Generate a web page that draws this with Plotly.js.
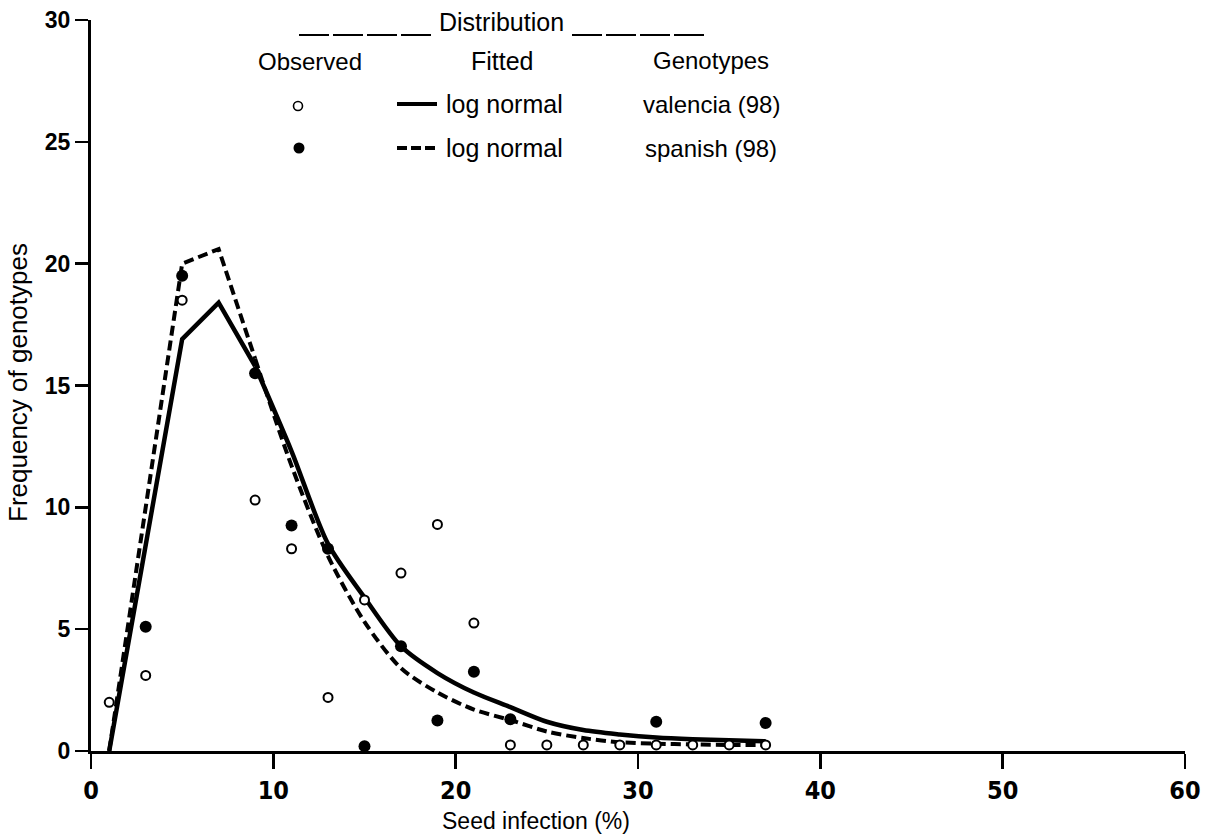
<!DOCTYPE html>
<html>
<head>
<meta charset="utf-8">
<script src="https://cdn.plot.ly/plotly-3.0.1.min.js"></script>
<style>html,body{margin:0;padding:0;background:#fff;}#chart{width:1209px;height:835px;}</style>
</head>
<body>
<div id="chart"></div>
<script>
// ---- data ----
const fitX = [1, 5, 7, 9, 11, 13, 15, 17, 19, 21, 23, 25, 27, 29, 31, 33, 35, 37];
const valenciaFit = [0, 16.9, 18.4, 15.8, 12.3, 8.5, 6.3, 4.3, 3.2, 2.4, 1.8, 1.2, 0.86, 0.68, 0.55, 0.48, 0.44, 0.4];
const spanishFit = [0, 20.0, 20.6, 16.1, 11.7, 8.0, 5.3, 3.4, 2.4, 1.7, 1.27, 0.8, 0.53, 0.36, 0.3, 0.27, 0.25, 0.25];

const valenciaX = [1, 3, 5, 9, 11, 13, 15, 17, 19, 21, 23, 25, 27, 29, 31, 33, 35, 37];
const valenciaObs = [2.0, 3.1, 18.5, 10.3, 8.3, 2.2, 6.2, 7.3, 9.3, 5.25, 0.25, 0.25, 0.25, 0.25, 0.25, 0.25, 0.25, 0.25];
const spanishX = [3, 5, 9, 11, 13, 15, 17, 19, 21, 23, 31, 37];
const spanishObs = [5.1, 19.5, 15.5, 9.25, 8.3, 0.2, 4.3, 1.25, 3.25, 1.3, 1.2, 1.15];

const xTicks = [0, 10, 20, 30, 40, 50, 60];
const yTicks = [0, 5, 10, 15, 20, 25, 30];

const xTitle = "Seed infection (%)";
const yTitle = "Frequency of genotypes";
const legendHeader = "Distribution";
const legendCols = ["Observed", "Fitted", "Genotypes"];
const fitLabel = "log normal";
const genotypeLabels = ["valencia (98)", "spanish (98)"];

// ---- layout helpers (pixel -> paper) ----
const W = 1209, H = 835;
const M = {l: 91, r: 24, t: 20, b: 84};
const PW = W - M.l - M.r, PH = H - M.t - M.b;
const px = v => (v - M.l) / PW;
const py = v => (H - M.b - v) / PH;

const SANS = "Liberation Sans, Arial, sans-serif";
const NARROW = "Liberation Sans Narrow, DejaVu Sans Condensed, Arial Narrow, sans-serif";

// fitted curves: straight rise up to the peak, smooth tail afterwards
const PEAK = 3; // index where the smooth tail starts
const solidLine = {color: '#000', width: 4.5};
const dashLine = {color: '#000', width: 4, dash: '10px,5px'};
const traces = [
  {x: fitX.slice(0, PEAK + 1), y: valenciaFit.slice(0, PEAK + 1), mode: 'lines', line: solidLine, cliponaxis: false},
  {x: fitX.slice(PEAK), y: valenciaFit.slice(PEAK), mode: 'lines', line: Object.assign({shape: 'spline', smoothing: 0.8}, solidLine), cliponaxis: false},
  {x: fitX.slice(0, PEAK + 1), y: spanishFit.slice(0, PEAK + 1), mode: 'lines', line: dashLine, cliponaxis: false},
  {x: fitX.slice(PEAK), y: spanishFit.slice(PEAK), mode: 'lines', line: Object.assign({shape: 'spline', smoothing: 0.8}, dashLine), cliponaxis: false},
  {x: valenciaX, y: valenciaObs, mode: 'markers', cliponaxis: false,
   marker: {symbol: 'circle', size: 9, color: '#fff', line: {color: '#000', width: 2}}},
  {x: spanishX, y: spanishObs, mode: 'markers', cliponaxis: false,
   marker: {symbol: 'circle', size: 12, color: '#000', line: {width: 0}}}
];

const txt = (text, x, y, size, xanchor, font) => ({
  text, xref: 'paper', yref: 'paper', x: px(x), y: py(y), xanchor: xanchor || 'center', yanchor: 'middle',
  showarrow: false, font: {family: font || SANS, size: size, color: '#000'}
});

const annotations = [
  txt(legendHeader, 501, 22, 25),
  txt(legendCols[0], 310, 61, 24),
  txt(legendCols[1], 502, 61, 25),
  txt(legendCols[2], 711, 60, 24),
  txt(fitLabel, 444, 104, 25, 'left'),
  txt(fitLabel, 444, 148, 25, 'left'),
  txt(genotypeLabels[0], 711, 104, 24),
  txt(genotypeLabels[1], 711, 148, 24),
  txt(xTitle, 536, 821, 23),
  Object.assign(txt(yTitle, 18, 383, 26), {textangle: -90})
];

const shapes = [
  {type: 'line', xref: 'paper', yref: 'paper', x0: px(299), x1: px(431), y0: py(35), y1: py(35), line: {color: '#000', width: 2, dash: '30px,4px'}},
  {type: 'line', xref: 'paper', yref: 'paper', x0: px(572), x1: px(708), y0: py(35), y1: py(35), line: {color: '#000', width: 2, dash: '30px,4px'}},
  {type: 'line', xref: 'paper', yref: 'paper', x0: px(397), x1: px(437), y0: py(104), y1: py(104), line: {color: '#000', width: 4}},
  {type: 'line', xref: 'paper', yref: 'paper', x0: px(397), x1: px(437), y0: py(148), y1: py(148), line: {color: '#000', width: 4, dash: '10px,4px'}},
  {type: 'circle', xref: 'paper', yref: 'paper', xsizemode: 'pixel', ysizemode: 'pixel',
   xanchor: px(298), yanchor: py(106), x0: -4.5, x1: 4.5, y0: -4.5, y1: 4.5, fillcolor: '#fff', line: {color: '#000', width: 1.6}},
  {type: 'circle', xref: 'paper', yref: 'paper', xsizemode: 'pixel', ysizemode: 'pixel',
   xanchor: px(299), yanchor: py(148), x0: -5.5, x1: 5.5, y0: -5.5, y1: 5.5, fillcolor: '#000', line: {color: '#000', width: 0}}
];

const layout = {
  width: W, height: H,
  margin: M,
  paper_bgcolor: '#fff', plot_bgcolor: '#fff',
  showlegend: false,
  xaxis: {
    range: [0, 60], tickvals: xTicks, ticktext: xTicks.map(String),
    ticks: 'outside', ticklen: 15, tickwidth: 2.5, tickcolor: '#000',
    showline: true, linewidth: 3, linecolor: '#000', showgrid: false, zeroline: false,
    tickfont: {family: NARROW, size: 25, color: '#000', weight: 'bold'}, fixedrange: true
  },
  yaxis: {
    range: [0, 30], tickvals: yTicks, ticktext: yTicks.map(String),
    ticks: 'outside', ticklen: 13, tickwidth: 2.5, tickcolor: '#000',
    showline: true, linewidth: 3, linecolor: '#000', showgrid: false, zeroline: false,
    tickfont: {family: SANS, size: 23, color: '#000', weight: 'bold'}, fixedrange: true
  },
  annotations, shapes
};

Plotly.newPlot('chart', traces, layout, {staticPlot: true, displayModeBar: false});
</script>
</body>
</html>
